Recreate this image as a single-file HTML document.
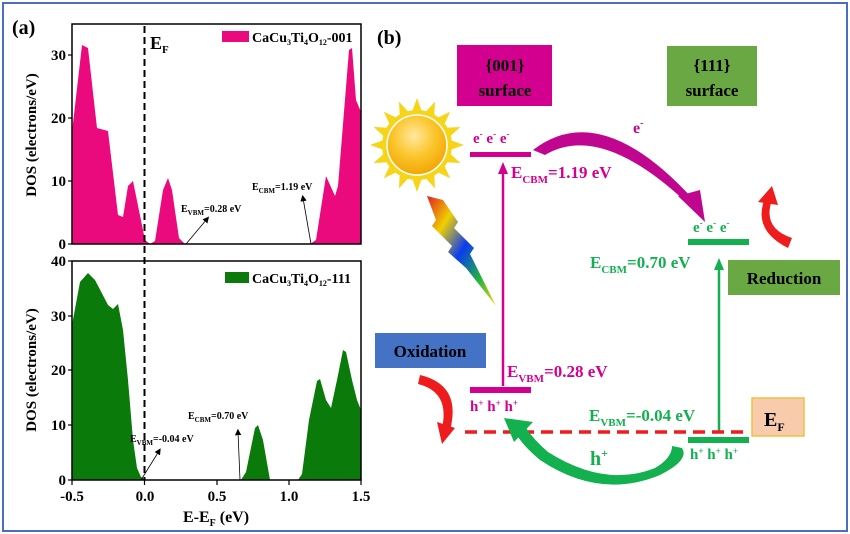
<!DOCTYPE html>
<html><head><meta charset="utf-8"><style>
html,body{margin:0;padding:0;background:#fff;}
svg{display:block;font-family:"Liberation Serif",serif;font-weight:bold;}
</style></head><body>
<svg width="850" height="534" viewBox="0 0 850 534" xmlns="http://www.w3.org/2000/svg">
<defs>
<marker id="ah" markerWidth="8" markerHeight="8" refX="4" refY="4" orient="auto"><path d="M0,0 L8,4 L0,8 z" fill="#000"/></marker>
<linearGradient id="bolt" x1="0" y1="0" x2="1" y2="1"><stop offset="0" stop-color="#e02020"/><stop offset="0.25" stop-color="#f0d000"/><stop offset="0.5" stop-color="#0a3cf0"/><stop offset="0.75" stop-color="#20b040"/><stop offset="1" stop-color="#f0e000"/></linearGradient>
<radialGradient id="sun" cx="0.45" cy="0.35" r="0.7"><stop offset="0" stop-color="#ffe9a0"/><stop offset="0.5" stop-color="#fbc52a"/><stop offset="1" stop-color="#f0a000"/></radialGradient>
</defs>
<rect x="3" y="3" width="844" height="528" fill="#fff" stroke="#4a6fc0" stroke-width="2"/>

<!-- Panel (a) -->
<text x="12" y="34" font-size="20">(a)</text>
<path d="M72,244 L72,132 L82,45 L88,48 L97,128 L108,131 L118,215 L123,217 L128,186 L133,181 L145,240 L150,244 L155,241 L163,190 L168,178 L172,190 L179,238 L185,244 Z" fill="#ea0a7d"/>
<path d="M310,244 L316,240 L326,176 L335,196 L338,186 L349,50 L352,48 L356,100 L361,112 L361,244 Z" fill="#ea0a7d"/>
<rect x="72" y="24" width="289" height="220" fill="none" stroke="#000" stroke-width="1.5"/>
<g stroke="#000" stroke-width="1.2">
<line x1="68" y1="55" x2="72" y2="55"/><line x1="68" y1="118" x2="72" y2="118"/><line x1="68" y1="181" x2="72" y2="181"/><line x1="68" y1="244" x2="72" y2="244"/>
</g>
<g font-size="15" text-anchor="end">
<text x="66" y="60">30</text><text x="66" y="123">20</text><text x="66" y="186">10</text><text x="66" y="249">0</text>
</g>
<rect x="222" y="31" width="27" height="11" fill="#ea0a7d"/>
<text x="252" y="42" font-size="14">CaCu<tspan font-size="8" dy="3">3</tspan><tspan dy="-3">Ti</tspan><tspan font-size="8" dy="3">4</tspan><tspan dy="-3">O</tspan><tspan font-size="8" dy="3">12</tspan><tspan dy="-3">-001</tspan></text>
<text x="150" y="49" font-size="18">E<tspan font-size="11" dy="4">F</tspan></text>
<text x="181" y="212" font-size="10">E<tspan font-size="7" dy="3">VBM</tspan><tspan dy="-3">=0.28 eV</tspan></text>
<line x1="186" y1="244" x2="207" y2="219" stroke="#000" stroke-width="0.8" marker-end="url(#ah)"/>
<text x="252" y="190" font-size="10">E<tspan font-size="7" dy="3">CBM</tspan><tspan dy="-3">=1.19 eV</tspan></text>
<line x1="311" y1="244" x2="303" y2="198" stroke="#000" stroke-width="0.8" marker-end="url(#ah)"/>
<path d="M72,480 L72,325 L80,282 L88,273 L95,280 L108,305 L113,309 L118,304 L123,330 L128,380 L133,440 L137,468 L141,477 L146,480 Z" fill="#0a7a0a"/>
<path d="M241,480 L246,472 L255,428 L258,425 L263,440 L270,480 Z" fill="#0a7a0a"/>
<path d="M298,480 L302,474 L309,420 L317,381 L320,379 L326,400 L331,408 L337,380 L343,350 L346,352 L352,380 L357,400 L361,410 L361,480 Z" fill="#0a7a0a"/>
<rect x="72" y="261" width="289" height="219" fill="none" stroke="#000" stroke-width="1.5"/>
<g stroke="#000" stroke-width="1.2">
<line x1="68" y1="261" x2="72" y2="261"/><line x1="68" y1="316" x2="72" y2="316"/><line x1="68" y1="370" x2="72" y2="370"/><line x1="68" y1="425" x2="72" y2="425"/><line x1="68" y1="480" x2="72" y2="480"/>
<line x1="72" y1="480" x2="72" y2="485"/><line x1="144.5" y1="480" x2="144.5" y2="485"/><line x1="217" y1="480" x2="217" y2="485"/><line x1="289" y1="480" x2="289" y2="485"/><line x1="361" y1="480" x2="361" y2="485"/>
</g>
<g font-size="15" text-anchor="end">
<text x="66" y="266">40</text><text x="66" y="321">30</text><text x="66" y="375">20</text><text x="66" y="430">10</text><text x="66" y="485">0</text>
</g>
<g font-size="15" text-anchor="middle">
<text x="72" y="501">-0.5</text><text x="145" y="501">0.0</text><text x="217" y="501">0.5</text><text x="289" y="501">1.0</text><text x="361" y="501">1.5</text>
</g>
<text x="216" y="522" font-size="16" text-anchor="middle">E-E<tspan font-size="10" dy="4">F</tspan><tspan dy="-4"> (eV)</tspan></text>
<rect x="225" y="272" width="24" height="11" fill="#0a7a0a"/>
<text x="252" y="283" font-size="14">CaCu<tspan font-size="8" dy="3">3</tspan><tspan dy="-3">Ti</tspan><tspan font-size="8" dy="3">4</tspan><tspan dy="-3">O</tspan><tspan font-size="8" dy="3">12</tspan><tspan dy="-3">-111</tspan></text>
<text x="130" y="442" font-size="10">E<tspan font-size="7" dy="3">VBM</tspan><tspan dy="-3">=-0.04 eV</tspan></text>
<line x1="141" y1="480" x2="159" y2="451" stroke="#000" stroke-width="0.8" marker-end="url(#ah)"/>
<text x="188" y="419" font-size="10">E<tspan font-size="7" dy="3">CBM</tspan><tspan dy="-3">=0.70 eV</tspan></text>
<line x1="240" y1="480" x2="238" y2="432" stroke="#000" stroke-width="0.8" marker-end="url(#ah)"/>
<text transform="translate(36,135) rotate(-90)" font-size="15" text-anchor="middle">DOS (electrons/eV)</text>
<text transform="translate(36,370) rotate(-90)" font-size="15" text-anchor="middle">DOS (electrons/eV)</text>
<line x1="144.5" y1="26" x2="144.5" y2="480" stroke="#000" stroke-width="2" stroke-dasharray="7,4"/>

<!-- Panel (b) -->
<text x="377" y="44" font-size="20">(b)</text>
<rect x="457" y="45" width="95" height="61" fill="#d3008f"/>
<text x="505" y="71" font-size="17" text-anchor="middle">{001}</text>
<text x="505" y="96" font-size="17" text-anchor="middle">surface</text>
<rect x="667" y="46" width="90" height="60" fill="#69a843"/>
<text x="712" y="71" font-size="17" text-anchor="middle">{111}</text>
<text x="712" y="96" font-size="17" text-anchor="middle">surface</text>
<g transform="translate(417,145)">
<g fill="#f6d418">
<polygon points="0,-47 5,-33 -5,-33" transform="rotate(0)"/><polygon points="0,-47 5,-33 -5,-33" transform="rotate(22.5)"/><polygon points="0,-47 5,-33 -5,-33" transform="rotate(45)"/><polygon points="0,-47 5,-33 -5,-33" transform="rotate(67.5)"/><polygon points="0,-47 5,-33 -5,-33" transform="rotate(90)"/><polygon points="0,-47 5,-33 -5,-33" transform="rotate(112.5)"/><polygon points="0,-47 5,-33 -5,-33" transform="rotate(135)"/><polygon points="0,-47 5,-33 -5,-33" transform="rotate(157.5)"/><polygon points="0,-47 5,-33 -5,-33" transform="rotate(180)"/><polygon points="0,-47 5,-33 -5,-33" transform="rotate(202.5)"/><polygon points="0,-47 5,-33 -5,-33" transform="rotate(225)"/><polygon points="0,-47 5,-33 -5,-33" transform="rotate(247.5)"/><polygon points="0,-47 5,-33 -5,-33" transform="rotate(270)"/><polygon points="0,-47 5,-33 -5,-33" transform="rotate(292.5)"/><polygon points="0,-47 5,-33 -5,-33" transform="rotate(315)"/><polygon points="0,-47 5,-33 -5,-33" transform="rotate(337.5)"/>
<circle r="35"/>
</g>
<circle r="30" fill="url(#sun)" stroke="#fff" stroke-width="1.5"/>
</g>
<polygon points="427,196 443,200 458,222 454,228 474,248 470,254 496,306 466,268 448,252 452,246 432,226 436,220" fill="url(#bolt)"/>
<rect x="470" y="152" width="61" height="5" fill="#d3008f"/>
<text x="473" y="143" font-size="15" fill="#d3008f">e<tspan font-size="9" dy="-6">-</tspan><tspan dy="6"> e</tspan><tspan font-size="9" dy="-6">-</tspan><tspan dy="6"> e</tspan><tspan font-size="9" dy="-6">-</tspan></text>
<line x1="503" y1="386" x2="503" y2="172" stroke="#d3008f" stroke-width="2.5"/>
<polygon points="503,162 498,174 508,174" fill="#d3008f"/>
<text x="511" y="178" font-size="17" fill="#d3008f">E<tspan font-size="11" dy="5">CBM</tspan><tspan dy="-5">=1.19 eV</tspan></text>
<path d="M533,150 Q600,98 692,198 L686,202 Q600,122 545,155 Z" fill="#c0068e"/>
<polygon points="678,196 700,190 705,222" fill="#c0068e"/>
<text x="633" y="133" font-size="16" fill="#c0068e">e<tspan font-size="10" dy="-7">-</tspan></text>
<rect x="470" y="387" width="61" height="6" fill="#d3008f"/>
<text x="470" y="411" font-size="15" fill="#d3008f">h<tspan font-size="9" dy="-5">+</tspan><tspan dy="5"> h</tspan><tspan font-size="9" dy="-5">+</tspan><tspan dy="5"> h</tspan><tspan font-size="9" dy="-5">+</tspan></text>
<text x="507" y="377" font-size="17" fill="#d3008f">E<tspan font-size="11" dy="5">VBM</tspan><tspan dy="-5">=0.28 eV</tspan></text>
<rect x="688" y="239" width="61" height="6" fill="#12b04e"/>
<text x="693" y="232" font-size="15" fill="#12b04e">e<tspan font-size="9" dy="-6">-</tspan><tspan dy="6"> e</tspan><tspan font-size="9" dy="-6">-</tspan><tspan dy="6"> e</tspan><tspan font-size="9" dy="-6">-</tspan></text>
<text x="590" y="268" font-size="17" fill="#12b04e">E<tspan font-size="11" dy="5">CBM</tspan><tspan dy="-5">=0.70 eV</tspan></text>
<line x1="719" y1="433" x2="719" y2="268" stroke="#12b04e" stroke-width="2.5"/>
<polygon points="719,258 714,270 724,270" fill="#12b04e"/>
<rect x="688" y="437" width="61" height="6" fill="#12b04e"/>
<text x="690" y="459" font-size="15" fill="#12b04e">h<tspan font-size="9" dy="-5">+</tspan><tspan dy="5"> h</tspan><tspan font-size="9" dy="-5">+</tspan><tspan dy="5"> h</tspan><tspan font-size="9" dy="-5">+</tspan></text>
<text x="589" y="421" font-size="17" fill="#12b04e">E<tspan font-size="11" dy="5">VBM</tspan><tspan dy="-5">=-0.04 eV</tspan></text>
<rect x="728" y="260" width="112" height="35" fill="#69a843"/>
<text x="784" y="284" font-size="17" text-anchor="middle">Reduction</text>
<rect x="375" y="333" width="111" height="35" fill="#4472c4"/>
<text x="430" y="357" font-size="17" text-anchor="middle">Oxidation</text>
<line x1="465" y1="432" x2="748" y2="432" stroke="#ee1c1c" stroke-width="3.5" stroke-dasharray="12,7"/>
<rect x="752" y="398" width="52" height="38" fill="#f8cbad" stroke="#f0c040" stroke-width="1.5"/>
<text x="764" y="426" font-size="20">E<tspan font-size="12" dy="5">F</tspan></text>
<path d="M420,375 Q462,385 450,430 L442,428 Q450,392 418,384 Z" fill="#ee1c1c"/>
<polygon points="437,422 455,428 442,444" fill="#ee1c1c"/>
<path d="M788,248 Q752,230 765,198 L772,200 Q762,228 792,238 Z" fill="#ee1c1c"/>
<polygon points="758,202 772,186 778,205" fill="#ee1c1c"/>
<!-- green curved arrow: tail right, head left -->
<path d="M682,448 Q690,460 660,475 Q600,500 540,460 Q522,445 515,432 L526,428 Q534,440 548,452 Q605,488 655,468 Q672,458 672,446 Z" fill="#12b04e"/>
<polygon points="504,418 533,422 514,442" fill="#12b04e"/>
<text x="590" y="465" font-size="20" fill="#12b04e">h<tspan font-size="12" dy="-8">+</tspan></text>
</svg>
</body></html>
